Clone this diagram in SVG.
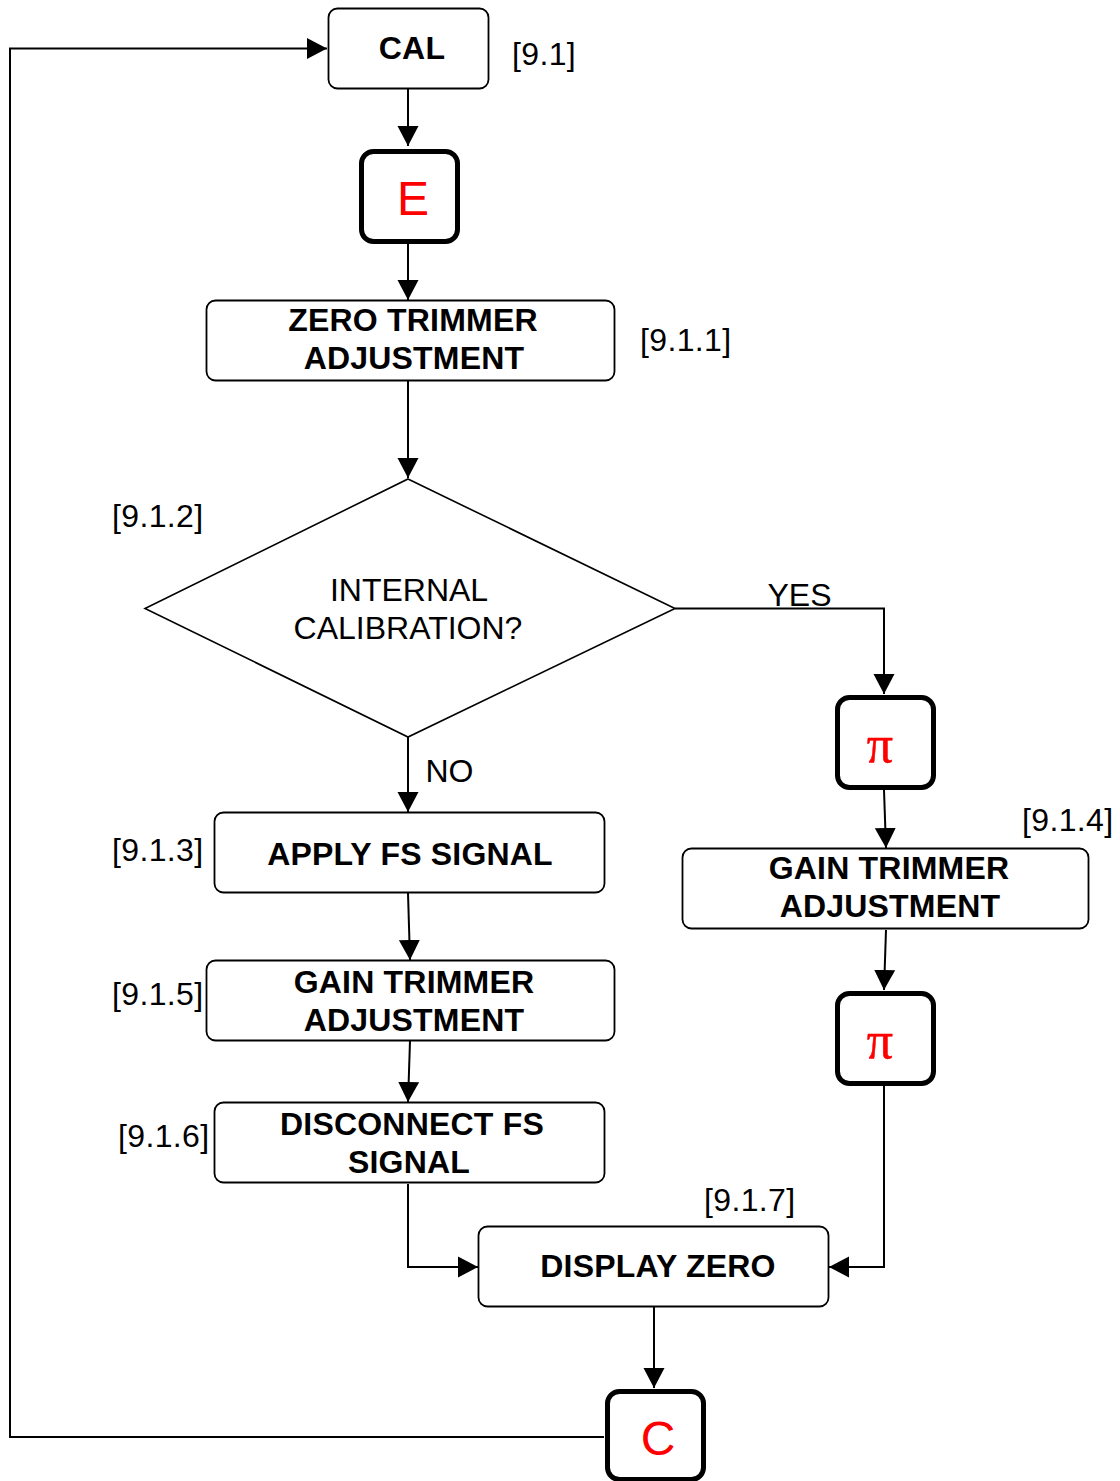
<svg xmlns="http://www.w3.org/2000/svg" width="1120" height="1481" viewBox="0 0 1120 1481">
<style>
text{font-family:"Liberation Sans",Arial,sans-serif;fill:#000}
.b{font-size:32px;font-weight:bold;text-anchor:middle;letter-spacing:.2px}
.l{font-size:32px;letter-spacing:.35px}
.m{font-size:32px;text-anchor:middle}
.r{font-size:48px;fill:#f00;text-anchor:middle}
.p{font-size:52px;fill:#f00;stroke:#f00;stroke-width:.5;text-anchor:middle;font-family:"Liberation Serif","DejaVu Serif",serif}
.n{fill:#fff;stroke:#000;stroke-width:1.8}
.t{fill:#fff;stroke:#000;stroke-width:5}
.c{fill:none;stroke:#000;stroke-width:2}
</style>
<defs>
<marker id="a" markerUnits="userSpaceOnUse" markerWidth="22" markerHeight="22" refX="20" refY="11" orient="auto"><path d="M0 0.5L20 11L0 21.5Z" fill="#000"/></marker>
</defs>
<rect width="1120" height="1481" fill="#fff"/>
<g id="connectors">
<path class="c" marker-end="url(#a)" d="M604 1437H10V48.500H327"/>
<path class="c" marker-end="url(#a)" d="M408 89V146"/>
<path class="c" marker-end="url(#a)" d="M408 243V300"/>
<path class="c" marker-end="url(#a)" d="M408 381V478"/>
<path class="c" marker-end="url(#a)" d="M675 608.500H884V694"/>
<path class="c" marker-end="url(#a)" d="M408 737V812"/>
<path class="c" marker-end="url(#a)" d="M884 790L886 848"/>
<path class="c" marker-end="url(#a)" d="M886 930L884 990"/>
<path class="c" marker-end="url(#a)" d="M408 893L410 960"/>
<path class="c" marker-end="url(#a)" d="M410 1041L408 1102"/>
<path class="c" marker-end="url(#a)" d="M408 1184V1267H478"/>
<path class="c" marker-end="url(#a)" d="M884 1086V1267H829"/>
<path class="c" marker-end="url(#a)" d="M654 1307V1388"/>
</g>
<g id="cal"><rect class="n" x="328.500" y="8.500" width="160" height="80" rx="9"/><text class="b" x="412" y="59">CAL</text></g>
<text class="l" x="512" y="65">[9.1]</text>
<g id="e"><rect class="t" x="361.500" y="151.500" width="96" height="90" rx="12"/><text class="r" x="413" y="215" font-weight="normal">E</text></g>
<g id="zero"><rect class="n" x="206.500" y="300.500" width="408" height="80" rx="9"/><text class="b" x="413" y="331">ZERO TRIMMER</text><text class="b" x="414" y="369">ADJUSTMENT</text></g>
<text class="l" x="640" y="351">[9.1.1]</text>
<g id="internal"><path fill="#fff" stroke="#000" stroke-width="1.6" d="M408 479L675 608.500L408 737L145 608.500Z"/><text class="m" x="409" y="601">INTERNAL</text><text class="m" x="408" y="639">CALIBRATION?</text></g>
<text class="l" x="112" y="527">[9.1.2]</text>
<text class="m" x="799.500" y="606">YES</text>
<text class="m" x="449.500" y="782">NO</text>
<g id="pi1"><rect class="t" x="837.500" y="697.500" width="96" height="90" rx="12"/><text class="p" x="880" y="762">π</text></g>
<text class="l" x="1022" y="831">[9.1.4]</text>
<g id="apply"><rect class="n" x="214.500" y="812.500" width="390" height="80" rx="9"/><text class="b" x="410" y="865">APPLY FS SIGNAL</text></g>
<text class="l" x="112" y="861">[9.1.3]</text>
<g id="gain2"><rect class="n" x="682.500" y="848.500" width="406" height="80" rx="9"/><text class="b" x="889" y="879">GAIN TRIMMER</text><text class="b" x="890" y="917">ADJUSTMENT</text></g>
<g id="gain1"><rect class="n" x="206.500" y="960.500" width="408" height="80" rx="9"/><text class="b" x="414" y="993">GAIN TRIMMER</text><text class="b" x="414" y="1031">ADJUSTMENT</text></g>
<text class="l" x="112" y="1005">[9.1.5]</text>
<g id="pi2"><rect class="t" x="837.500" y="993.500" width="96" height="90" rx="12"/><text class="p" x="880" y="1058">π</text></g>
<g id="disconnect"><rect class="n" x="214.500" y="1102.500" width="390" height="80" rx="9"/><text class="b" x="412" y="1135">DISCONNECT FS</text><text class="b" x="409" y="1173">SIGNAL</text></g>
<text class="l" x="118" y="1147">[9.1.6]</text>
<text class="l" x="704" y="1211">[9.1.7]</text>
<g id="display"><rect class="n" x="478.500" y="1226.500" width="350" height="80" rx="9"/><text class="b" x="658" y="1277">DISPLAY ZERO</text></g>
<g id="c"><rect class="t" x="607.500" y="1391.500" width="96" height="88" rx="12"/><text class="r" x="658" y="1455">C</text></g>
</svg>
